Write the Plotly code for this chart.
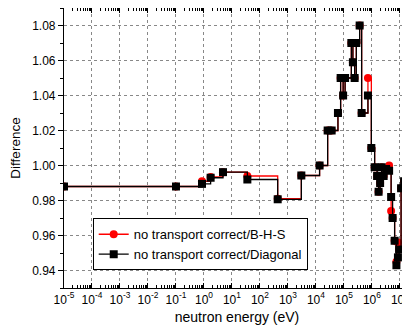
import plotly.graph_objects as go

# neutron energy group points (eV)
energy = [1e-5, 0.1, 0.85, 1.73, 4.78, 35.5, 430, 3010, 13500, 26200, 36400,
          61100, 76200, 93500, 110000, 184000, 209000, 241000, 277000, 364000,
          429000, 720000, 953000, 1.25e6, 1.53e6, 1.73e6, 1.96e6, 2.22e6,
          2.62e6, 3.21e6, 4.11e6, 4.85e6, 5.48e6, 6.47e6, 7.5e6, 8.49e6,
          9.35e6, 1.1e7, 1.41e7, 1.66e7, 2.0e7]

diag = [0.988, 0.988, 0.9895, 0.993, 0.9962, 0.992, 0.9807, 0.9943, 1.000,
        1.020, 1.020, 1.030, 1.050, 1.040, 1.050, 1.070, 1.059, 1.050, 1.070,
        1.080, 1.030, 1.040, 1.010, 0.999, 0.994, 0.985, 0.990, 0.999, 0.994,
        0.998, 0.997, 0.982, 0.970, 0.957, 0.943, 0.9475, 0.952, 0.987, 0.991,
        1.010, 1.010]

bhs = [0.988, 0.988, 0.991, 0.9935, 0.9962, 0.994, 0.981, 0.9943, 1.000,
       1.020, 1.020, 1.030, 1.050, 1.040, 1.050, 1.070, 1.059, 1.050, 1.070,
       1.080, 1.030, 1.050, 1.010, 0.999, 0.994, 0.985, 0.990, 0.999, 0.994,
       0.998, 1.000, 0.974, 0.970, 0.957, 0.945, 0.956, 0.952, 0.987, 0.991,
       1.010, 1.010]

x_tick_vals = [1e-5, 1e-4, 1e-3, 1e-2, 1e-1, 1e0, 1e1, 1e2, 1e3, 1e4, 1e5, 1e6, 1e7]
x_tick_text = ["10<sup>-5</sup>", "10<sup>-4</sup>", "10<sup>-3</sup>", "10<sup>-2</sup>",
               "10<sup>-1</sup>", "10<sup>0</sup>", "10<sup>1</sup>", "10<sup>2</sup>",
               "10<sup>3</sup>", "10<sup>4</sup>", "10<sup>5</sup>", "10<sup>6</sup>",
               "10<sup>7</sup>"]
y_ticks = [0.94, 0.96, 0.98, 1.00, 1.02, 1.04, 1.06, 1.08]

fig = go.Figure()
fig.add_trace(go.Scatter(
    x=energy, y=bhs, mode="lines+markers", line_shape="hv",
    name="no transport correct/B-H-S",
    line=dict(color="#ff0000", width=1.3),
    marker=dict(symbol="circle", size=8, color="#ff0000"),
))
fig.add_trace(go.Scatter(
    x=energy, y=diag, mode="lines+markers", line_shape="hv",
    name="no transport correct/Diagonal",
    line=dict(color="#000000", width=1.3),
    marker=dict(symbol="square", size=8, color="#000000"),
))

font_family = "Arial, Liberation Sans, sans-serif"
fig.update_layout(
    width=402, height=322,
    margin=dict(l=56, r=0, t=0, b=42),
    paper_bgcolor="white", plot_bgcolor="white",
    font=dict(family=font_family, size=12, color="#000000"),
    showlegend=True,
    legend=dict(
        x=0.083, y=0.249, xanchor="left", yanchor="top",
        bordercolor="#000000", borderwidth=1, bgcolor="white",
        font=dict(size=13), tracegroupgap=0, itemwidth=30,
    ),
    xaxis=dict(
        type="log", range=[-5, 7.36], automargin=False,
        tickvals=x_tick_vals, ticktext=x_tick_text, tickangle=0,
        showline=True, linecolor="#000000", linewidth=1.2,
        mirror="allticks", ticks="inside", ticklen=5, tickcolor="#000000",
        showgrid=True, gridcolor="#888888", griddash="dot", gridwidth=1,
        minor=dict(ticks="inside", ticklen=3, dtick="D1", tickcolor="#000000", showgrid=False),
        tickfont=dict(size=12),
        title=dict(text="neutron energy (eV)", font=dict(size=14), standoff=6),
        zeroline=False,
    ),
    yaxis=dict(
        range=[0.93, 1.09], automargin=False,
        tickvals=y_ticks, tickformat=".2f",
        showline=True, linecolor="#000000", linewidth=1.2, mirror=False,
        ticks="outside", ticklen=5, tickcolor="#000000",
        showgrid=True, gridcolor="#888888", griddash="dot", gridwidth=1,
        minor=dict(ticks="outside", ticklen=3, dtick=0.01, tickcolor="#000000", showgrid=False),
        tickfont=dict(size=12),
        title=dict(text="Difference", font=dict(size=13.5), standoff=8),
        zeroline=False,
    ),
)

fig.write_html("out.html")
